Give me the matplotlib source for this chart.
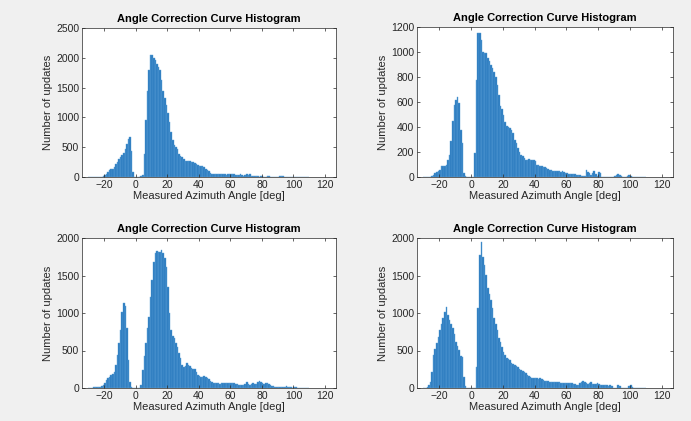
import matplotlib
matplotlib.use('Agg')
import matplotlib.pyplot as plt
import numpy as np

# 1-degree bins from -30 to 110 deg
edges = np.arange(-30, 111)

counts_a = [
    0, 0, 0, 0, 0, 0, 0, 0, 0,                                  # -30..-22
    10, 30, 55, 80, 110, 130, 140, 175, 220, 260,               # -21..-12
    300, 330, 365, 400, 470, 560, 640, 670, 430, 80,            # -11..-2
    0, 0, 0, 0, 10, 30, 390, 950, 1450, 1800,                   # -1..8
    2050, 2040, 2000, 1960, 1900, 1840, 1790, 1620, 1450, 1320, # 9..18
    1200, 1080, 930, 760, 620, 540, 500, 470, 390, 360,         # 19..28
    340, 300, 275, 270, 265, 268, 260, 250, 235, 220,           # 29..38
    200, 180, 185, 190, 170, 140, 125, 100, 70, 50,             # 39..48
    45, 45, 42, 45, 44, 45, 43, 45, 40, 42,                     # 49..58
    44, 50, 48, 45, 40, 35, 38, 42, 30, 25,                     # 59..68
    40, 45, 30, 42, 25, 15, 10, 25, 15, 8,                      # 69..78
    20, 15, 5, 5, 20, 10, 3, 3, 2, 2,                           # 79..88
    3, 2, 10, 15, 12, 8, 5, 6, 4, 2,                            # 89..98
    3, 2, 0, 0, 0, 0, 0, 0, 0, 0, 0,                            # 99..109
]

counts_b = [
    0, 0, 0, 0, 0,                                              # -30..-26
    10, 20, 32, 40, 45, 60, 85, 85, 85, 100,                    # -25..-16
    140, 180, 285, 445, 580, 620, 640, 590, 380, 270,           # -15..-6
    32, 10, 0, 0, 0, 0, 0, 190, 780, 1155,                      # -5..4
    1150, 1100, 1000, 995, 990, 950, 930, 900, 870, 840,        # 5..14
    800, 740, 660, 570, 545, 500, 440, 405, 400, 395,           # 15..24
    380, 350, 300, 270, 232, 200, 180, 165, 150, 140,           # 25..34
    140, 142, 138, 140, 135, 125, 100, 95, 90, 85,              # 35..44
    82, 78, 72, 68, 60, 55, 50, 45, 45, 48,                     # 45..54
    45, 42, 45, 40, 35, 32, 28, 24, 22, 27,                     # 55..64
    25, 19, 15, 13, 8, 5, 10, 59, 40, 32,                       # 65..74
    20, 30, 45, 25, 5, 37, 30, 3, 2, 3,                         # 75..84
    0, 2, 2, 0, 2, 5, 15, 27, 20, 8,                            # 85..94
    3, 2, 2, 10, 16, 5, 0, 0, 0, 0,                             # 95..104
    0, 0, 0, 0, 0,                                              # 105..109
]

counts_c = [
    0, 0, 5, 8,                                                 # -30..-27
    9, 10, 12, 20, 31, 45, 62, 107, 130, 150,                   # -26..-17
    173, 185, 218, 306, 440, 595, 773, 1017, 1128, 1092,        # -16..-7
    795, 373, 84, 10, 0, 0, 0, 0, 0, 40,                        # -6..3
    240, 426, 595, 800, 950, 1217, 1440, 1683, 1803, 1825,      # 4..13
    1816, 1816, 1838, 1800, 1727, 1616, 1350, 995, 773, 693,    # 14..23
    662, 600, 550, 470, 395, 306, 284, 300, 329, 310,           # 24..33
    293, 262, 255, 249, 210, 173, 160, 151, 151, 155,           # 34..43
    151, 140, 120, 98, 85, 71, 65, 62, 62, 60,                  # 44..53
    62, 65, 71, 68, 71, 65, 71, 68, 62, 60,                     # 54..63
    55, 45, 40, 38, 40, 53, 75, 53, 45, 53,                     # 64..73
    71, 60, 55, 75, 98, 80, 62, 50, 62, 62,                     # 74..83
    55, 40, 30, 25, 18, 15, 10, 12, 18, 10,                     # 84..93
    15, 22, 12, 8, 15, 5, 8, 10, 5, 3,                          # 94..103
    0, 0, 0, 0, 0, 0,                                           # 104..109
]

counts_d = [
    0, 5, 18, 40, 84, 218, 440, 520, 595, 684,                  # -30..-21
    773, 850, 928, 1017, 1075, 973, 906, 850, 795, 720,         # -20..-11
    617, 560, 506, 426, 417, 151, 27, 0, 0, 0,                  # -10..-1
    0, 0, 0, 284, 1061, 1772, 1950, 1750, 1640, 1505,           # 0..9
    1328, 1250, 1172, 1061, 928, 850, 773, 662, 617, 550,       # 10..19
    480, 440, 395, 385, 373, 329, 320, 306, 295, 284,           # 20..29
    260, 240, 230, 218, 195, 173, 160, 151, 140, 129,           # 30..39
    130, 129, 125, 129, 115, 107, 100, 98, 90, 84,              # 40..49
    84, 82, 80, 80, 78, 75, 73, 72, 72, 71,                     # 50..59
    70, 68, 65, 62, 60, 50, 40, 45, 62, 75,                     # 60..69
    98, 85, 71, 60, 70, 84, 60, 53, 60, 71,                     # 70..79
    50, 40, 45, 40, 35, 40, 30, 40, 25, 5,                      # 80..89
    3, 5, 40, 30, 5, 3, 2, 3, 2, 30,                            # 90..99
    40, 15, 5, 0, 0, 0, 0, 0, 0, 0,                             # 100..109
]

panels = [
    (counts_a, 2500, 500),
    (counts_b, 1200, 200),
    (counts_c, 2000, 500),
    (counts_d, 2000, 500),
]

# axes boxes in pixels: left, top, right, bottom
boxes = [(82, 28, 336, 177), (417, 27, 673, 177),
         (82, 238, 336, 388), (417, 238, 673, 388)]

W, H = 691, 421
plt.rcParams['font.family'] = ['Liberation Sans', 'DejaVu Sans']
fig = plt.figure(figsize=(W / 100, H / 100), dpi=100, facecolor='#f0f0f0')

for (counts, ymax, ystep), (l, t, r, b) in zip(panels, boxes):
    assert len(counts) == len(edges) - 1
    ax = fig.add_axes([l / W, 1 - b / H, (r - l) / W, (b - t) / H])
    ax.bar(edges[:-1], counts, width=1.0, align='edge',
           color='#2879bd', edgecolor='#5a9fd6', linewidth=0.3)
    ax.set_xlim(-34, 127)
    ax.set_ylim(0, ymax)
    ax.set_xticks(np.arange(-20, 121, 20))
    ax.set_yticks(np.arange(0, ymax + 1, ystep))
    ax.tick_params(direction='in', top=True, right=True, length=2.5,
                   width=0.5, labelsize=7.5, colors='#262626', pad=2)
    for s in ax.spines.values():
        s.set_linewidth(0.5)
        s.set_color('#262626')
    ax.set_title('Angle Correction Curve Histogram', fontsize=8,
                 fontweight='bold', pad=4)
    ax.set_xlabel('Measured Azimuth Angle [deg]', fontsize=8, labelpad=1,
                  color='#262626')
    ax.set_ylabel('Number of updates', fontsize=8, labelpad=2,
                  color='#262626')

fig.savefig('out.png', dpi=100, facecolor=fig.get_facecolor())
